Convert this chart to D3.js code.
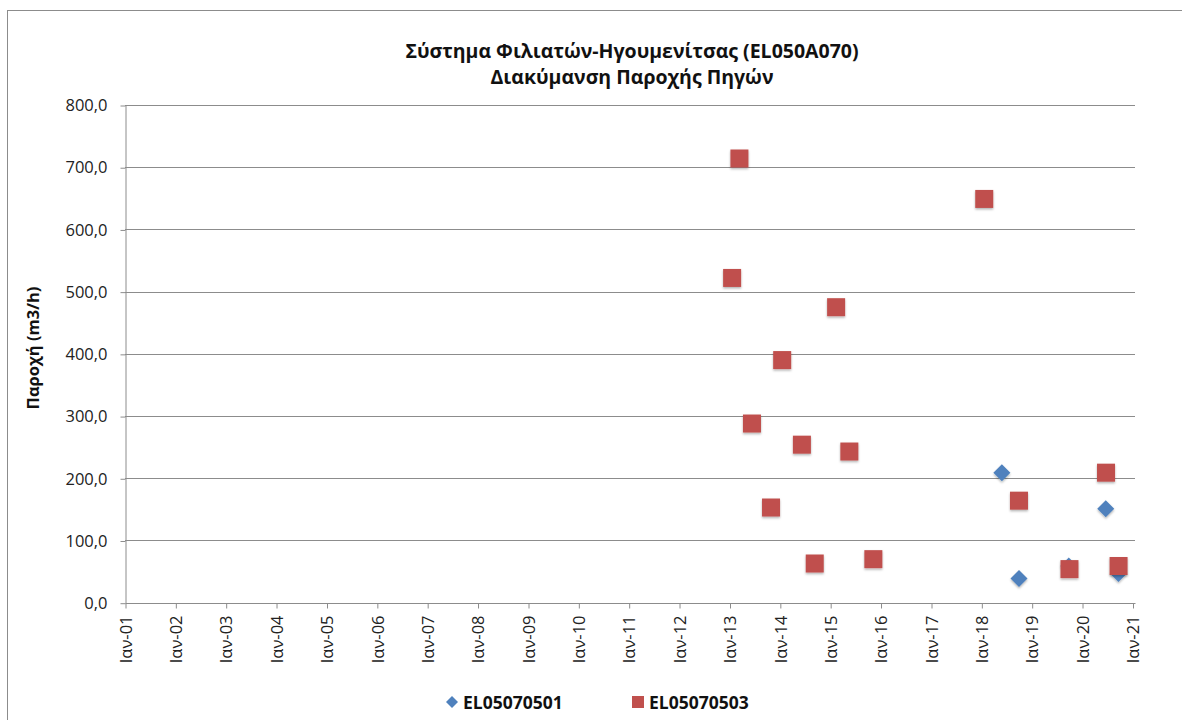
<!DOCTYPE html>
<html>
<head>
<meta charset="utf-8">
<script src="https://cdn.jsdelivr.net/npm/d3@7"></script>
<style>
  html, body { margin: 0; padding: 0; background: #fff; }
  svg { display: block; }
  text { font-family: "Open Sans", "Noto Sans", sans-serif; }
</style>
</head>
<body>
<svg id="chart" width="1182" height="720"></svg>
<script>
// ---- data ----
const titleLines = ["Σύστημα Φιλιατών-Ηγουμενίτσας (EL050A070)", "Διακύμανση Παροχής Πηγών"];
const yLabel = "Παροχή (m3/h)";
const seriesNames = ["EL05070501", "EL05070503"];

const dates501 = ["2018-05-30", "2018-10-01", "2019-09-27", "2020-06-21", "2020-09-21"];
const values501 = [209, 39, 59, 151, 47];

const dates503 = ["2013-01-20", "2013-03-14", "2013-06-13", "2013-10-29", "2014-01-18",
                  "2014-06-10", "2014-09-11", "2015-02-13", "2015-05-20", "2015-11-10",
                  "2018-01-22", "2018-10-01", "2019-10-02", "2020-06-23", "2020-09-22"];
const values503 = [522, 714, 288, 153, 390, 254, 63, 475, 243, 70, 649, 164, 54, 209, 59];

const yTicks = [0, 100, 200, 300, 400, 500, 600, 700, 800];
const xTickYears = d3.range(2001, 2022);
const monthLabel = "Ιαν";

// ---- drawing ----
const svg = d3.select("#chart");
const parse = d3.timeParse("%Y-%m-%d");

const x = d3.scaleTime()
  .domain([new Date(2001, 0, 1), new Date(2021, 0, 1)])
  .range([125, 1132.5]);
const y = d3.scaleLinear().domain([0, 800]).range([602.7, 105]);

// outer frame
svg.append("rect").attr("x", 7.5).attr("y", 10.5).attr("width", 1190).attr("height", 730)
  .attr("fill", "none").attr("stroke", "#8c8c8c").attr("stroke-width", 1);

// gridlines
svg.append("g").selectAll("line").data(yTicks.filter(d => d > 0)).join("line")
  .attr("x1", 125).attr("x2", 1135)
  .attr("y1", d => Math.round(y(d)) + 0.5).attr("y2", d => Math.round(y(d)) + 0.5)
  .attr("stroke", "#8c8c8c").attr("stroke-width", 1);

// y axis
const fmt = d => d3.format(".1f")(d).replace(".", ",");
const yAxis = svg.append("g").attr("transform", "translate(125.5,0.5)")
  .call(d3.axisLeft(y).tickValues(yTicks).tickFormat(fmt).tickSize(5).tickSizeOuter(0));
yAxis.select(".domain").attr("stroke", "#8c8c8c");
yAxis.selectAll(".tick line").attr("stroke", "#8c8c8c");
yAxis.selectAll(".tick text").attr("x", -18).attr("font-size", 16.5).attr("fill", "#222")
  .style("font-family", "'Open Sans', sans-serif");

// x axis
const xAxis = svg.append("g").attr("transform", "translate(0.5," + (Math.round(y(0)) + 0.5) + ")")
  .call(d3.axisBottom(x).tickValues(xTickYears.map(yr => new Date(yr, 0, 1)))
    .tickFormat(d => monthLabel + "-" + d3.timeFormat("%y")(d)).tickSize(5).tickSizeOuter(0));
xAxis.select(".domain").attr("stroke", "#8c8c8c").attr("d", "M125,0H1135");
xAxis.selectAll(".tick line").attr("stroke", "#8c8c8c");
xAxis.selectAll(".tick text")
  .attr("transform", "rotate(-90)")
  .attr("text-anchor", "end")
  .attr("x", -12).attr("y", 0).attr("dy", "0.35em")
  .attr("font-size", 16.5).attr("fill", "#222");

// title
svg.append("g").selectAll("text").data(titleLines).join("text")
  .attr("x", 632).attr("y", (d, i) => 58 + i * 25.5)
  .attr("text-anchor", "middle").attr("font-size", 19.5).attr("font-weight", "bold")
  .attr("fill", "#111").text(d => d);

// y label
svg.append("text").attr("transform", "translate(39,348) rotate(-90)")
  .attr("text-anchor", "middle").attr("font-size", 16.5).attr("font-weight", "bold")
  .attr("fill", "#111").text(yLabel);

// shadow filter
const defs = svg.append("defs");
const f = defs.append("filter").attr("id", "sh").attr("x", "-30%").attr("y", "-30%").attr("width", "160%").attr("height", "160%");
f.append("feDropShadow").attr("dx", 0).attr("dy", 1.5).attr("stdDeviation", 1.2)
  .attr("flood-color", "#000").attr("flood-opacity", 0.3);

function diamondPath(cx, cy, r) {
  return `M${cx},${cy - r}L${cx + r},${cy}L${cx},${cy + r}L${cx - r},${cy}Z`;
}

// series 501 (diamonds)
svg.append("g").attr("filter", "url(#sh)").selectAll("path")
  .data(dates501.map((d, i) => ({ date: parse(d), value: values501[i] }))).join("path")
  .attr("d", d => diamondPath(x(d.date), y(d.value), 8.5))
  .attr("fill", "#4F81BD");

// series 503 (squares)
svg.append("g").attr("filter", "url(#sh)").selectAll("rect")
  .data(dates503.map((d, i) => ({ date: parse(d), value: values503[i] }))).join("rect")
  .attr("x", d => x(d.date) - 9).attr("y", d => y(d.value) - 9)
  .attr("width", 18).attr("height", 18)
  .attr("fill", "#C0504D");

// legend
const lg = svg.append("g");
lg.append("path").attr("d", diamondPath(452, 702, 6)).attr("fill", "#4F81BD");
lg.append("text").attr("x", 463).attr("y", 708.5).attr("font-size", 17.5).attr("font-weight", "bold")
  .attr("fill", "#111").text(seriesNames[0]);
lg.append("rect").attr("x", 632).attr("y", 696).attr("width", 12).attr("height", 12).attr("fill", "#C0504D");
lg.append("text").attr("x", 649).attr("y", 708.5).attr("font-size", 17.5).attr("font-weight", "bold")
  .attr("fill", "#111").text(seriesNames[1]);
</script>
</body>
</html>
